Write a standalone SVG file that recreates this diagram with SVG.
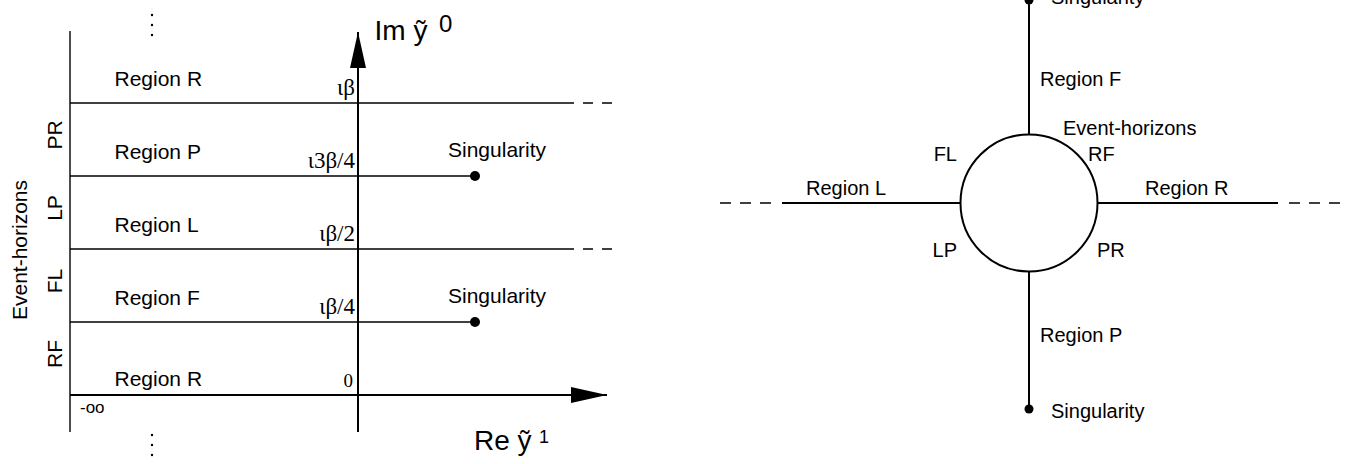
<svg xmlns="http://www.w3.org/2000/svg" width="1351" height="464" viewBox="0 0 1351 464">
<style>
.s{font-family:"Liberation Sans",Arial,sans-serif;fill:#000}
.l21{font-size:21px}
.r20{font-size:20px}
.v{font-family:"Liberation Serif","Times New Roman",serif;font-size:23px;text-anchor:end;fill:#000}
.thin{stroke:#000;stroke-width:1.4;fill:none}
.ax{stroke:#000;stroke-width:2;fill:none}
.dash{stroke:#000;stroke-width:1.4;stroke-dasharray:10 9;fill:none}
.dashR{stroke:#000;stroke-width:1.6;stroke-dasharray:11 9;fill:none}
</style>
<defs>
<marker id="ah" markerWidth="36" markerHeight="16" refX="36" refY="8" orient="auto" markerUnits="userSpaceOnUse">
<path d="M0,0 L36,8 L0,16 Z" fill="#000"/>
</marker>
</defs>
<rect width="1351" height="464" fill="#fff"/>

<g id="left-connectors">
<line class="thin" x1="70" y1="31" x2="70" y2="432"/>
<line class="thin" x1="70" y1="103" x2="574" y2="103"/>
<line class="dash" x1="583" y1="103" x2="612" y2="103"/>
<line class="thin" x1="70" y1="176" x2="475" y2="176"/>
<line class="thin" x1="70" y1="249" x2="574" y2="249"/>
<line class="dash" x1="583" y1="249" x2="612" y2="249"/>
<line class="thin" x1="70" y1="322" x2="475" y2="322"/>
<line class="ax" x1="358" y1="432" x2="358" y2="32" marker-end="url(#ah)"/>
<line class="ax" x1="70" y1="395" x2="607" y2="395" marker-end="url(#ah)"/>
<circle cx="475" cy="176" r="5" fill="#000"/>
<circle cx="475" cy="322" r="5" fill="#000"/>
<g fill="#000">
<circle cx="152" cy="15" r="1.2"/><circle cx="152" cy="25" r="1.2"/><circle cx="152" cy="35" r="1.2"/>
<circle cx="152" cy="435" r="1.2"/><circle cx="152" cy="445" r="1.2"/><circle cx="152" cy="455" r="1.2"/>
</g>
</g>

<g id="left-labels">
<text class="s l21" x="114.5" y="86">Region R</text>
<text class="s l21" x="114.5" y="159">Region P</text>
<text class="s l21" x="114.5" y="232">Region L</text>
<text class="s l21" x="114.5" y="305">Region F</text>
<text class="s l21" x="114.5" y="386">Region R</text>
<text class="v" x="355" y="95">ιβ</text>
<text class="v" x="355" y="168">ι3β/4</text>
<text class="v" x="355" y="241">ιβ/2</text>
<text class="v" x="355" y="314">ιβ/4</text>
<text class="v" x="353" y="387" style="font-size:19px">0</text>
<text class="s l21" x="448" y="157">Singularity</text>
<text class="s l21" x="448" y="303">Singularity</text>
<text class="s" x="80" y="413" style="font-size:17px">-oo</text>
<text class="s l21" transform="translate(62,135) rotate(-90)" text-anchor="middle">PR</text>
<text class="s l21" transform="translate(62,208) rotate(-90)" text-anchor="middle">LP</text>
<text class="s l21" transform="translate(62,281) rotate(-90)" text-anchor="middle">FL</text>
<text class="s l21" transform="translate(62,354) rotate(-90)" text-anchor="middle">RF</text>
<text class="s l21" transform="translate(27,250) rotate(-90)" text-anchor="middle">Event-horizons</text>
<text class="s" x="374.5" y="40" style="font-size:28px">Im ỹ</text>
<text class="s" x="439" y="32" style="font-size:24px">0</text>
<text class="s" x="474" y="450" style="font-size:28px">Re ỹ</text>
<text class="s" x="539" y="443" style="font-size:18px">1</text>
</g>

<g id="right-connectors">
<line class="ax" x1="1029" y1="0" x2="1029" y2="134"/>
<line class="ax" x1="1029" y1="272" x2="1029" y2="409"/>
<line class="ax" x1="782" y1="203" x2="961" y2="203"/>
<line class="ax" x1="1097" y1="203" x2="1278" y2="203"/>
<line class="dashR" x1="720" y1="203" x2="780" y2="203"/>
<line class="dashR" x1="1289" y1="203" x2="1345" y2="203"/>
<circle cx="1029" cy="0" r="4.5" fill="#000"/>
<circle cx="1029" cy="409" r="4.5" fill="#000"/>
</g>

<g id="horizon-circle">
<circle cx="1029" cy="203" r="68.5" class="ax"/>
</g>

<g id="right-labels">
<text class="s r20" x="1051" y="4">Singularity</text>
<text class="s r20" x="1040" y="86">Region F</text>
<text class="s r20" x="1063" y="135">Event-horizons</text>
<text class="s r20" x="957" y="161" text-anchor="end">FL</text>
<text class="s r20" x="1088" y="161">RF</text>
<text class="s r20" x="806" y="195">Region L</text>
<text class="s r20" x="1145" y="195">Region R</text>
<text class="s r20" x="957" y="257" text-anchor="end">LP</text>
<text class="s r20" x="1097" y="257">PR</text>
<text class="s r20" x="1040" y="342">Region P</text>
<text class="s r20" x="1051" y="418">Singularity</text>
</g>
</svg>
